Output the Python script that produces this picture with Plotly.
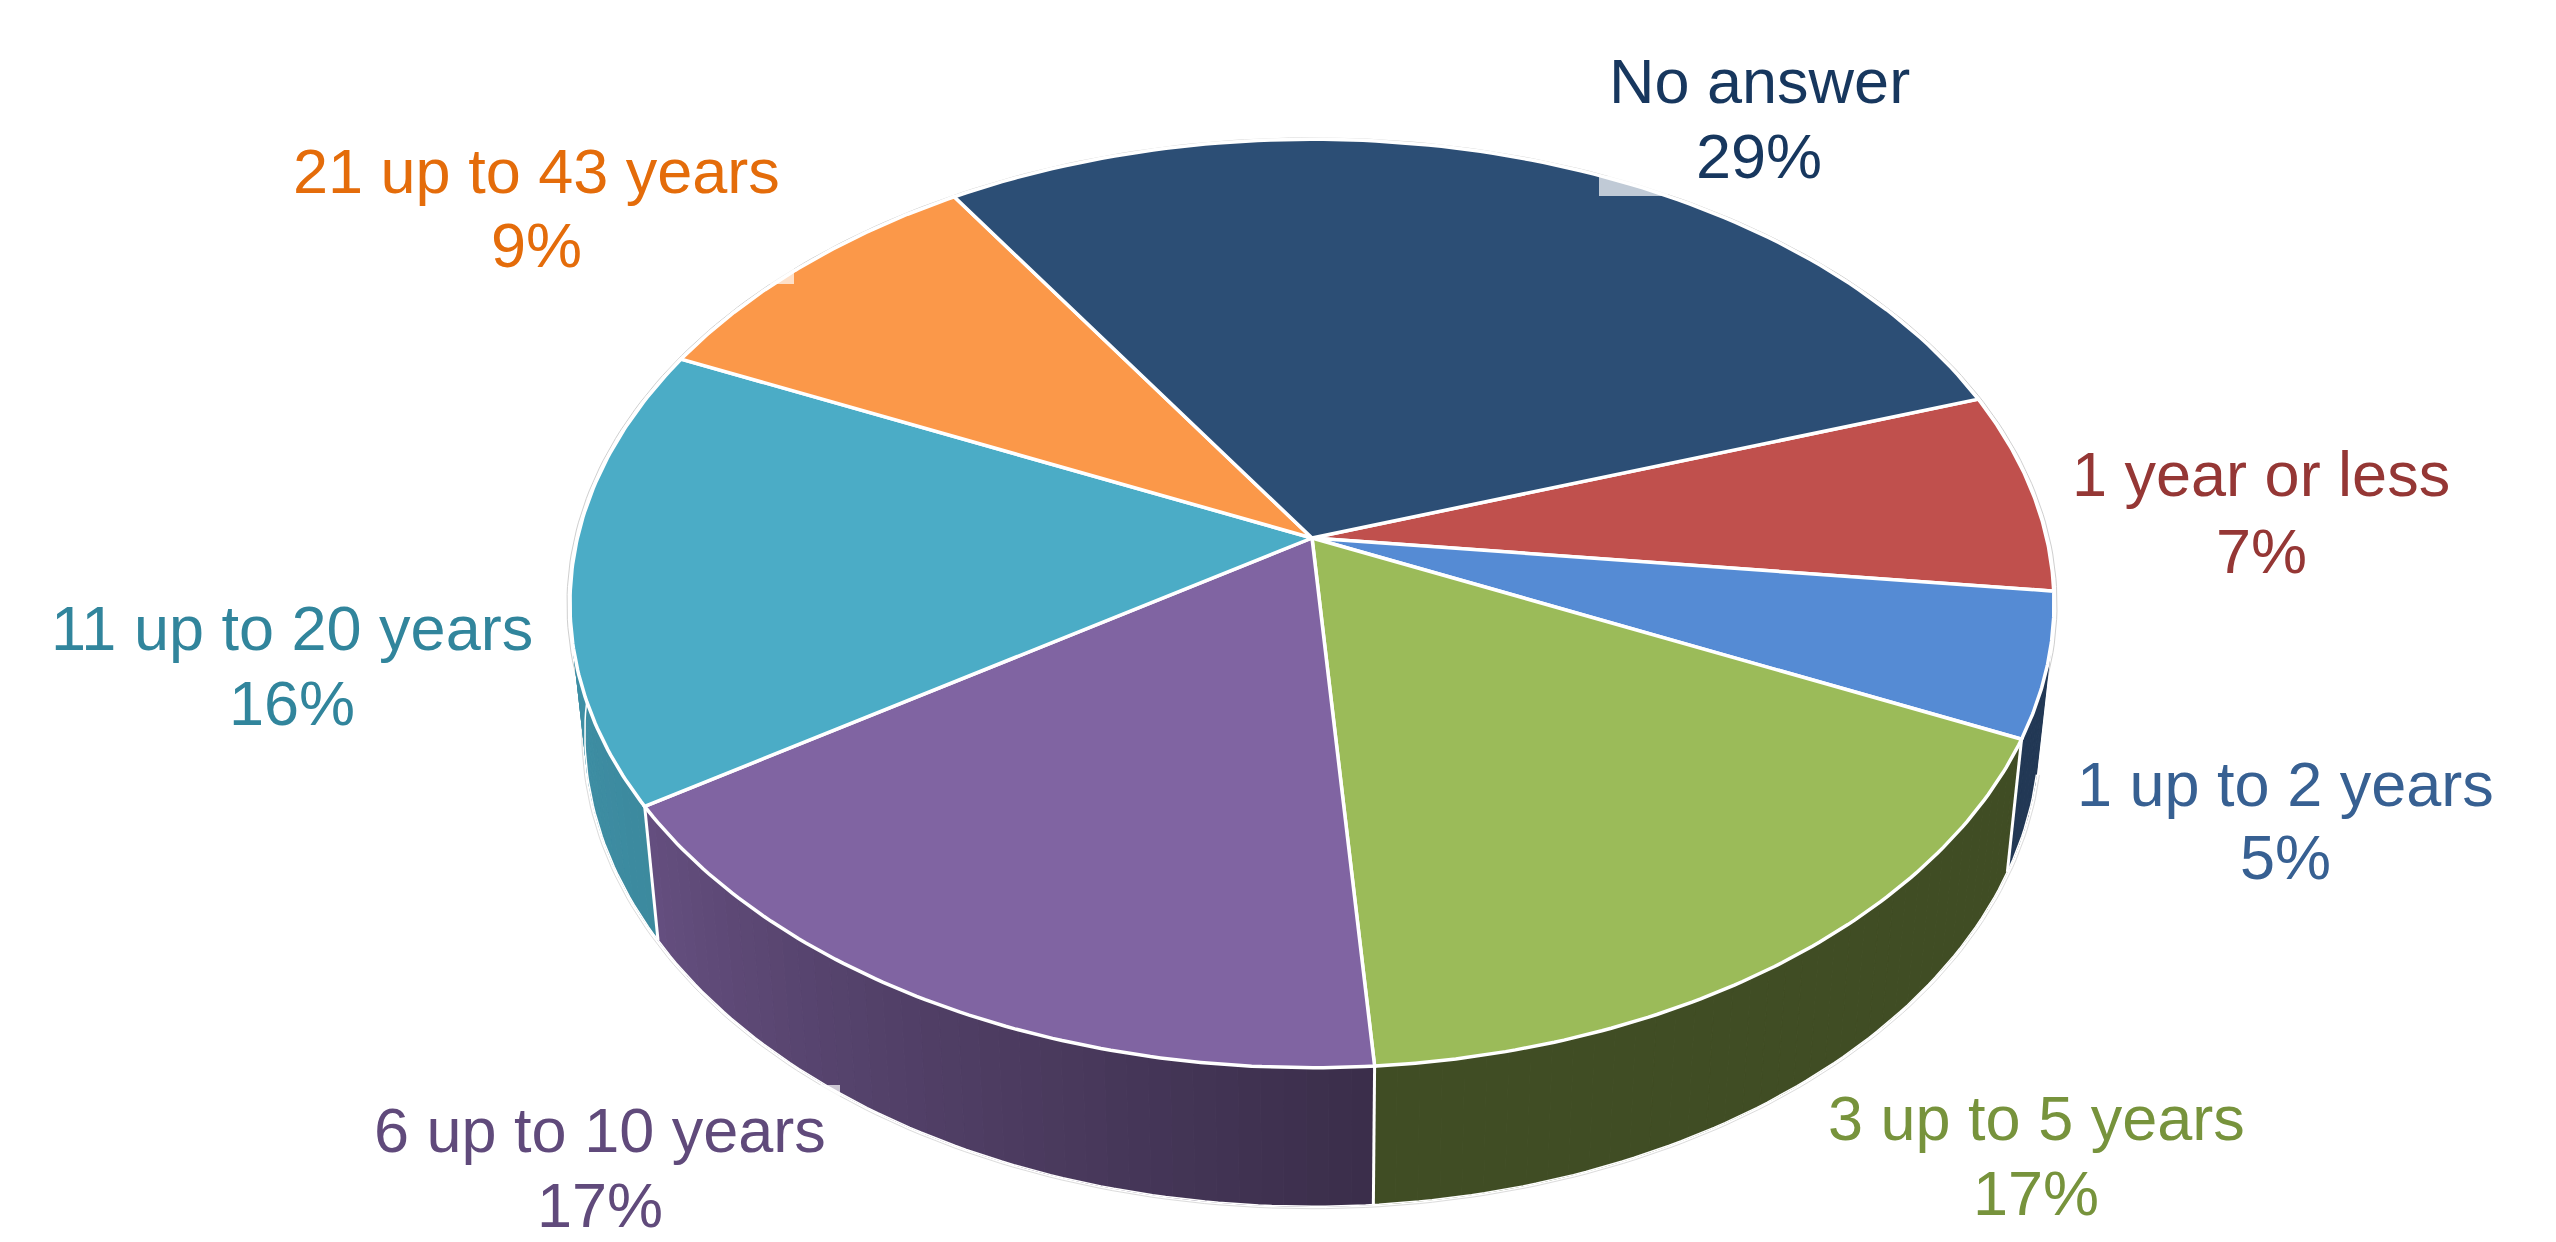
import numpy as np
import plotly.graph_objects as go

# Share of respondents per answer, clockwise from the first slice
categories = ["1 year or less", "1 up to 2 years", "3 up to 5 years", "6 up to 10 years",
              "11 up to 20 years", "21 up to 43 years", "No answer"]
values = [7, 5, 17, 17, 16, 9, 29]

face_colors = ["#c0504d", "#558bd4", "#9bbb59", "#8064a2", "#4bacc6", "#fb9849", "#2c4e75"]
text_colors = ["#953735", "#376092", "#77933c", "#604a7b", "#31859c", "#e46c0a", "#17375e"]
# Wall shading at the start and end of each slice (fraction of the face colour)
wall_shade = [(0.4, 0.4), (0.4, 0.4), (0.41, 0.41), (0.46, 0.79), (0.8, 0.88), (0.6, 0.6), (0.6, 0.6)]
# Centre of the name line and of the percentage line of each label, in page pixels
label_pos = [(2261, 474, 551), (2285, 784, 857), (2036, 1118, 1193), (600, 1130, 1205),
             (292, 628, 703), (536, 171, 245), (1759, 81, 156)]

W, H = 2556, 1242
CX, CY = 1312, 538
PERSP, SCALE_Y, SCALE_X = 0.141, 455.0, 734.6
START_DEG = 71.4
WALL_FROM, WALL_TO = np.radians(103), np.radians(268)


def top_xy(theta, r=1.0):
    """Perspective projection of a point on the upper disc; theta runs clockwise from 12 o'clock."""
    px, py = r * np.sin(theta), -r * np.cos(theta)
    d = 1 - PERSP * py
    return SCALE_X * px / d, SCALE_Y * py / d


def to_page(x, y, lower=False):
    if lower:
        return CX + 0.98 * x, CY + 129 + 1.018 * y
    return CX + x, CY + y


def arc(a0, a1, n, lower=False, r=1.0):
    th = np.linspace(a0, a1, n)
    return to_page(*top_xy(th, r), lower=lower)


def hex_scaled(color, k):
    rgb = [int(color[i:i + 2], 16) for i in (1, 3, 5)]
    return "rgb({},{},{})".format(*[round(c * k) for c in rgb])


fractions = np.array(values) / sum(values)
edges = np.radians(START_DEG) + np.concatenate([[0], np.cumsum(fractions)]) * 2 * np.pi

fig = go.Figure()


def poly(xs, ys, fill=None, line="rgba(0,0,0,0)", width=0):
    fig.add_trace(go.Scatter(
        x=list(xs), y=list(ys), mode="lines", hoverinfo="skip", showlegend=False,
        fill="toself" if fill else "none", fillcolor=fill,
        line=dict(color=line, width=width), connectgaps=False))


# Faint rim round the upper disc and along the lower edge
rx, ry = arc(0, 2 * np.pi, 361, r=1.004)
poly(rx, ry, line="#cfcfcf", width=1)
rx, ry = arc(WALL_FROM, WALL_TO, 181, lower=True, r=1.004)
poly(rx, ry, line="#dcdcdc", width=1)

# Outer walls: only the part facing the viewer, split into strips for the shading
for i in range(5):
    a0, a1 = edges[i], edges[i + 1]
    a0v, a1v = max(a0, WALL_FROM), min(a1, WALL_TO)
    if a1v <= a0v:
        continue
    steps = max(int(np.degrees(a1v - a0v) / 1.5), 1)
    ticks = np.linspace(a0v, a1v, steps + 1)
    for j in range(steps):
        t = (ticks[j] - a0) / (a1 - a0)
        k = wall_shade[i][0] + (wall_shade[i][1] - wall_shade[i][0]) * t
        col = hex_scaled(face_colors[i], k)
        ux, uy = arc(ticks[j], ticks[j + 1], 4)
        dx, dy = arc(ticks[j + 1], ticks[j], 4, lower=True)
        poly(np.r_[ux, dx, ux[0]], np.r_[uy, dy, uy[0]], fill=col, line=col, width=1)

# White seams where neighbouring walls meet, and the lower wall edge
for i in (2, 3, 4):
    a = edges[i]
    ux, uy = to_page(*top_xy(a))
    dx, dy = to_page(*top_xy(a), lower=True)
    poly([ux, dx], [uy, dy], line="white", width=3)
rx, ry = arc(WALL_FROM, WALL_TO, 181, lower=True)
poly(rx, ry, line="white", width=1.5)

# Upper disc
for i, col in enumerate(face_colors):
    ax, ay = arc(edges[i], edges[i + 1], 90)
    poly(np.r_[CX, ax, CX], np.r_[CY, ay, CY], fill=col, line="white", width=3.5)

# Two-line labels: answer on top, percentage below
annotations = []
for name, val, col, (lx, y1, y2) in zip(categories, values, text_colors, label_pos):
    for txt, ly in ((name, y1), (f"{val}%", y2)):
        annotations.append(dict(x=lx, y=ly, xref="x", yref="y", text=txt, showarrow=False,
                                xanchor="center", yanchor="middle",
                                font=dict(family="Liberation Sans, Arial, sans-serif", size=63, color=col)))

# Pale corners left by the label boxes where they overlap the pie
box_corners = [(1599, 1668, 176, 196), (770, 794, 262, 284), (790, 840, 1085, 1125)]

fig.update_layout(
    width=W, height=H, margin=dict(l=0, r=0, t=0, b=0),
    paper_bgcolor="white", plot_bgcolor="white", showlegend=False,
    xaxis=dict(range=[0, W], visible=False, fixedrange=True),
    yaxis=dict(range=[H, 0], visible=False, fixedrange=True),
    annotations=annotations,
    shapes=[dict(type="rect", xref="x", yref="y", x0=a, x1=b, y0=c, y1=d,
                 fillcolor="rgba(255,255,255,0.7)", line_width=0, layer="above")
            for a, b, c, d in box_corners],
)

fig.write_html("out.html", config=dict(displayModeBar=False))
